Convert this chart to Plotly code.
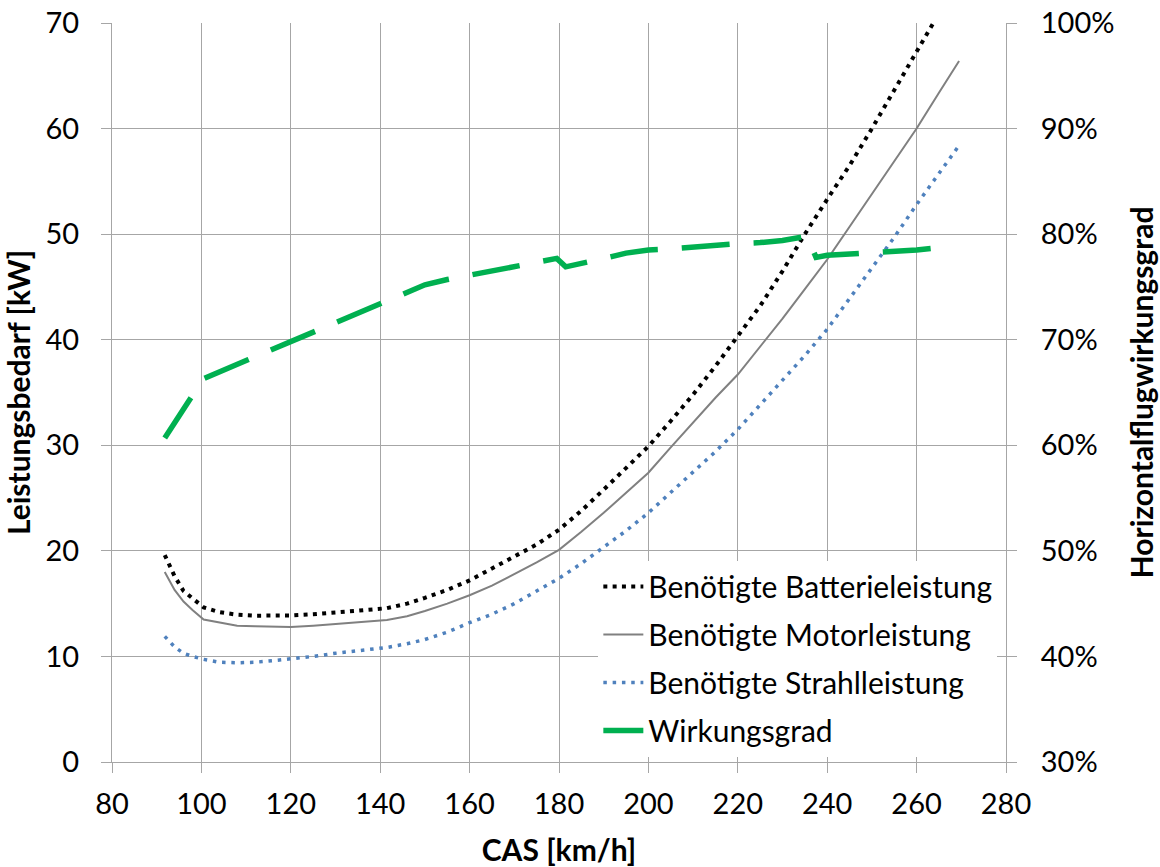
import plotly.graph_objects as go

# CAS in km/h for the power curves
cas_kmh = [91.8, 94, 96, 98, 100.5, 104, 108, 112, 116, 120, 125, 130, 135, 141.5,
           146, 150, 155, 160, 165, 170, 175, 180, 185, 190, 195, 200, 205, 210,
           215, 220, 225, 230, 235, 240, 245, 250, 255, 260, 265, 269.5]

# required battery power [kW]
batterie_kw = [19.6, 17.6, 16.2, 15.5, 14.65, 14.2, 13.95, 13.86, 13.86, 13.88, 14.0,
               14.12, 14.33, 14.57, 15.0, 15.55, 16.3, 17.2, 18.3, 19.4, 20.6, 22.0,
               23.8, 25.8, 27.8, 29.9, 32.3, 34.8, 37.5, 40.3, 43.2, 46.5, 50.0, 53.3,
               56.5, 60.0, 63.6, 67.2, 70.8, 74.2]

# required motor power [kW]
motor_kw = [18.0, 16.3, 15.2, 14.4, 13.5, 13.2, 12.9, 12.85, 12.8, 12.78, 12.9, 13.05,
            13.2, 13.45, 13.8, 14.3, 15.0, 15.8, 16.7, 17.8, 18.9, 20.1, 21.8, 23.6,
            25.5, 27.4, 29.8, 32.2, 34.5, 36.7, 39.3, 42.0, 44.8, 47.6, 50.7, 53.8,
            56.9, 60.0, 63.4, 66.4]

# required jet (thrust) power [kW]
strahl_kw = [11.9, 10.9, 10.3, 10.0, 9.72, 9.45, 9.4, 9.45, 9.6, 9.77, 10.0, 10.3,
             10.55, 10.85, 11.2, 11.6, 12.3, 13.2, 14.0, 15.0, 16.2, 17.4, 18.8, 20.3,
             21.9, 23.6, 25.5, 27.4, 29.4, 31.5, 33.8, 36.1, 38.5, 41.0, 43.9, 46.7,
             49.7, 52.8, 55.8, 58.4]

# level-flight efficiency [%]
cas_eta = [91.8, 100.4, 110.4, 120, 130, 140.2, 145, 150, 155, 160, 165, 170, 175,
           179.5, 181.5, 185, 190, 195, 200, 205, 210, 215, 220, 225, 230, 235.5,
           237.5, 240, 245, 250, 255, 260, 264.5]
wirkungsgrad_pct = [60.7, 66.3, 68.1, 69.85, 71.6, 73.4, 74.3, 75.2, 75.7, 76.1, 76.5,
                    76.9, 77.3, 77.7, 76.9, 77.2, 77.7, 78.2, 78.5, 78.6, 78.8, 79.0,
                    79.1, 79.2, 79.4, 79.8, 77.8, 78.0, 78.1, 78.25, 78.35, 78.5, 78.7]

x_ticks = list(range(80, 281, 20))
kw_ticks = list(range(0, 71, 10))
pct_ticks = list(range(30, 101, 10))
pct_labels = [f"{v}%" for v in pct_ticks]

GRID = "#A6A6A6"
TICK_FONT = dict(family="Lato", size=29, color="#000000")
TITLE_FONT = dict(family="Lato", size=30, color="#000000", weight="bold")

fig = go.Figure()

fig.add_trace(go.Scatter(
    x=cas_kmh, y=batterie_kw, mode="lines", name="Benötigte Batterieleistung",
    legendgroup="a", line=dict(color="#000000", width=4, dash="4px,5.3px")))
fig.add_trace(go.Scatter(
    x=cas_kmh, y=motor_kw, mode="lines", name="Benötigte Motorleistung",
    legendgroup="b", line=dict(color="#808080", width=2)))
fig.add_trace(go.Scatter(
    x=cas_kmh, y=strahl_kw, mode="lines", name="Benötigte Strahlleistung",
    legendgroup="c", line=dict(color="#4F81BD", width=3.5, dash="3.5px,5.8px")))
fig.add_trace(go.Scatter(
    x=cas_eta, y=wirkungsgrad_pct, mode="lines", name="Wirkungsgrad", yaxis="y2",
    legendgroup="d", line=dict(color="#00B050", width=5.5, dash="48px,24px")))

fig.update_layout(
    width=1160, height=867,
    margin=dict(l=112, r=154, t=23, b=105),
    paper_bgcolor="white", plot_bgcolor="white",
    font=dict(family="Lato"),
    showlegend=True,
    legend=dict(
        x=0.544, y=0.2726, xanchor="left", yanchor="top",
        bgcolor="white", borderwidth=0,
        font=dict(family="Lato", size=30, color="#000000"),
        tracegroupgap=6, itemwidth=40,
    ),
    xaxis=dict(
        range=[80, 280], tickvals=x_ticks, showgrid=True, gridcolor=GRID, gridwidth=1,
        showline=True, linecolor=GRID, linewidth=1, ticks="outside", ticklen=10,
        tickcolor=GRID, tickfont=TICK_FONT, zeroline=False, automargin=False,
        ticklabelstandoff=6,
        title=dict(text="CAS [km/h]", font=TITLE_FONT, standoff=22),
    ),
    yaxis=dict(
        range=[0, 70], tickvals=kw_ticks, showgrid=True, gridcolor=GRID, gridwidth=1,
        showline=True, linecolor=GRID, linewidth=1, ticks="outside", ticklen=10,
        tickcolor=GRID, tickfont=TICK_FONT, zeroline=False, automargin=False,
        ticklabelstandoff=16,
        title=dict(text="Leistungsbedarf [kW]", font=TITLE_FONT, standoff=18),
    ),
    yaxis2=dict(
        range=[30, 100], tickvals=pct_ticks, ticktext=pct_labels, overlaying="y",
        side="right", showgrid=False, showline=True, linecolor=GRID, linewidth=1,
        ticks="outside", ticklen=10, tickcolor=GRID, tickfont=TICK_FONT,
        zeroline=False, automargin=False, ticklabelstandoff=18,
        title=dict(text="Horizontalflugwirkungsgrad", font=TITLE_FONT, standoff=18),
    ),
)

fig.write_html("out.html")
